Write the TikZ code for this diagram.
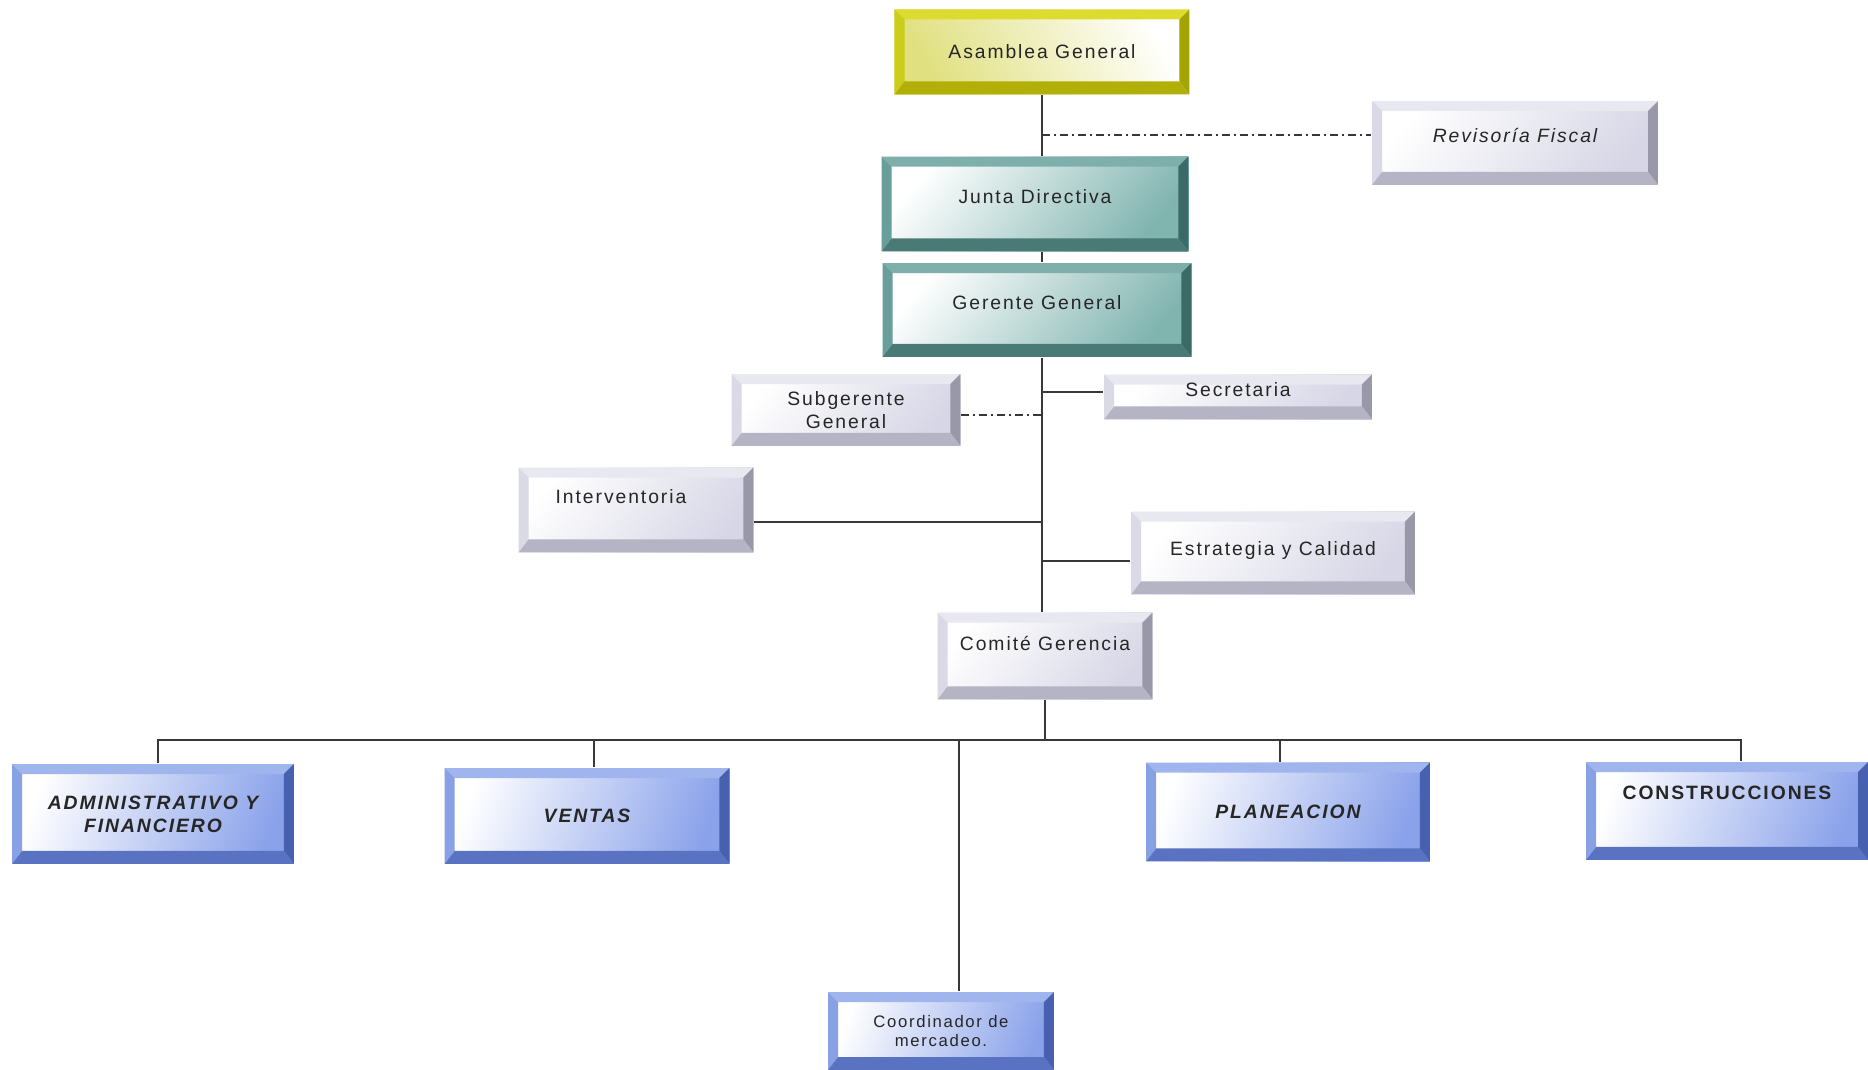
\documentclass[tikz,border=0pt]{standalone}
\usepackage{fontspec}
\setmainfont[LetterSpace=10]{Liberation Sans}
\usetikzlibrary{calc}

\definecolor{amaSup}{HTML}{DCDC30}
\definecolor{amaIzq}{HTML}{CCCC1A}
\definecolor{amaDer}{HTML}{A4A400}
\definecolor{amaInf}{HTML}{B0B008}
\definecolor{amaFondo}{HTML}{E0E080}
\definecolor{verSup}{HTML}{7EAFAB}
\definecolor{verIzq}{HTML}{6A9E9A}
\definecolor{verDer}{HTML}{3C6B67}
\definecolor{verInf}{HTML}{4A7A76}
\definecolor{verFondo}{HTML}{80B4AF}
\definecolor{grisSup}{HTML}{E8E8F0}
\definecolor{grisIzq}{HTML}{DADAE6}
\definecolor{grisDer}{HTML}{9898A8}
\definecolor{grisInf}{HTML}{B4B4C4}
\definecolor{grisFondo}{HTML}{D6D6E6}
\definecolor{azulSup}{HTML}{A0B4EE}
\definecolor{azulIzq}{HTML}{88A0E4}
\definecolor{azulDer}{HTML}{4860B0}
\definecolor{azulInf}{HTML}{5A72C2}
\definecolor{azulFondo}{HTML}{8AA2EA}
\definecolor{linea}{HTML}{383838}

\begin{document}
\begin{tikzpicture}[x=0.02cm, y=-0.02cm, font=\fontsize{11}{13}\selectfont, align=center, line width=0.8pt,
        bisel/.style n args={4}{path picture={
            \coordinate (pa) at (path picture bounding box.north west);
            \coordinate (pb) at (path picture bounding box.north east);
            \coordinate (pc) at (path picture bounding box.south east);
            \coordinate (pd) at (path picture bounding box.south west);
            \fill[#1] (pa) -- (pb) -- ([shift={(-0.2cm,-0.2cm)}]pb) -- ([shift={(0.2cm,-0.2cm)}]pa) -- cycle;
            \fill[#2] (pa) -- ([shift={(0.2cm,-0.2cm)}]pa) -- ([shift={(0.2cm,0.26cm)}]pd) -- (pd) -- cycle;
            \fill[#3] (pb) -- (pc) -- ([shift={(-0.2cm,0.26cm)}]pc) -- ([shift={(-0.2cm,-0.2cm)}]pb) -- cycle;
            \fill[#4] (pd) -- (pc) -- ([shift={(-0.2cm,0.26cm)}]pc) -- ([shift={(0.2cm,0.26cm)}]pd) -- cycle;
        }},
        caja/.style={rectangle, inner sep=2pt, text=black!85},
        amarillo/.style={caja, left color=white, right color=amaFondo, shading angle=-60, bisel={amaSup}{amaIzq}{amaDer}{amaInf}},
        verde/.style={caja, left color=white, right color=verFondo, shading angle=50, bisel={verSup}{verIzq}{verDer}{verInf}},
        gris/.style={caja, left color=white, right color=grisFondo, shading angle=50, bisel={grisSup}{grisIzq}{grisDer}{grisInf}},
        azul/.style={caja, left color=white, right color=azulFondo, shading angle=70, bisel={azulSup}{azulIzq}{azulDer}{azulInf}},
        linea/.style={draw=linea},
        punteado/.style={draw=linea, dash pattern=on 0.16cm off 0.08cm on 0.04cm off 0.08cm}]
        \useasboundingbox (0,0) rectangle (1868,1070);

        \node(asamblea)[amarillo, minimum width=5.9cm, minimum height=1.7cm] at (1042,52){Asamblea General};
        \node(revisoria)[gris, minimum width=5.72cm, minimum height=1.68cm, text depth=0.3cm] at (1515,143){\itshape Revisoría Fiscal};
        \node(junta)[verde, minimum width=6.14cm, minimum height=1.9cm, text depth=0.3cm] at (1035,204){Junta Directiva};
        \node(gerente)[verde, minimum width=6.18cm, minimum height=1.88cm, text depth=0.3cm] at (1037,310){Gerente General};
        \node(subgerente)[gris, minimum width=4.58cm, minimum height=1.44cm] at (846,410){Subgerente\\General};
        \node(secretaria)[gris, minimum width=5.36cm, minimum height=0.9cm, text depth=0.3cm] at (1238,397){Secretaria};
        \node(interventoria)[gris, minimum width=4.7cm, minimum height=1.7cm, text depth=0.55cm] at (636,510){Interventoria\hspace{0.6cm}};
        \node(estrategia)[gris, minimum width=5.68cm, minimum height=1.66cm, text depth=0.2cm] at (1273,553){Estrategia y Calidad};
        \node(comite)[gris, minimum width=4.3cm, minimum height=1.74cm, text depth=0.5cm] at (1045,656){Comité Gerencia};

        \node(admin)[azul, minimum width=5.64cm, minimum height=2cm] at (153,814){\bfseries\itshape ADMINISTRATIVO Y\\\bfseries\itshape FINANCIERO};
        \node(ventas)[azul, minimum width=5.7cm, minimum height=1.92cm] at (587,816){\bfseries\itshape VENTAS};
        \node(planeacion)[azul, minimum width=5.68cm, minimum height=1.98cm] at (1288,812){\bfseries\itshape PLANEACION};
        \node(construcciones)[azul, minimum width=5.64cm, minimum height=1.96cm, text depth=0.75cm] at (1727,811){\bfseries CONSTRUCCIONES};
        \node(coordinador)[azul, minimum width=4.52cm, minimum height=1.56cm, font=\fontsize{9.5}{10.5}\selectfont] at (941,1031){Coordinador de\\mercadeo.};

        % tronco central
        \draw[linea] (asamblea.south) -- (asamblea.south |- junta.north);
        \draw[linea] (asamblea.south |- junta.south) -- (asamblea.south |- gerente.north);
        \draw[linea] (asamblea.south |- gerente.south) -- (asamblea.south |- comite.north);

        \coordinate (rf) at ($(revisoria.west)+(0,-8)$);
        \draw[punteado] (asamblea.south |- rf) -- (rf);
        \coordinate (se) at ($(secretaria.west)+(0,-5)$);
        \draw[linea] (asamblea.south |- se) -- (se);
        \coordinate (sg) at ($(subgerente.east)+(0,5)$);
        \draw[punteado] (sg) -- (asamblea.south |- sg);
        \coordinate (iv) at ($(interventoria.east)+(0,12)$);
        \draw[linea] (iv) -- (asamblea.south |- iv);
        \coordinate (ec) at ($(estrategia.west)+(0,8)$);
        \draw[linea] (asamblea.south |- ec) -- (ec);

        % areas
        \coordinate (bus) at ($(comite.south)+(0,40)$);
        \coordinate (ad) at ($(admin.north)+(5,0)$);
        \coordinate (ve) at ($(ventas.north)+(7,0)$);
        \coordinate (pl) at ($(planeacion.north)+(-8,0)$);
        \coordinate (co) at ($(construcciones.north)+(14,0)$);
        \coordinate (cm) at ($(coordinador.north)+(18,0)$);
        \draw[linea] (comite.south) -- (bus);
        \draw[linea] (ad) |- (bus) -| (co);
        \draw[linea] (ve |- bus) -- (ve);
        \draw[linea] (pl |- bus) -- (pl);
        \draw[linea] (cm |- bus) -- (cm);
    \end{tikzpicture}
\end{document}
